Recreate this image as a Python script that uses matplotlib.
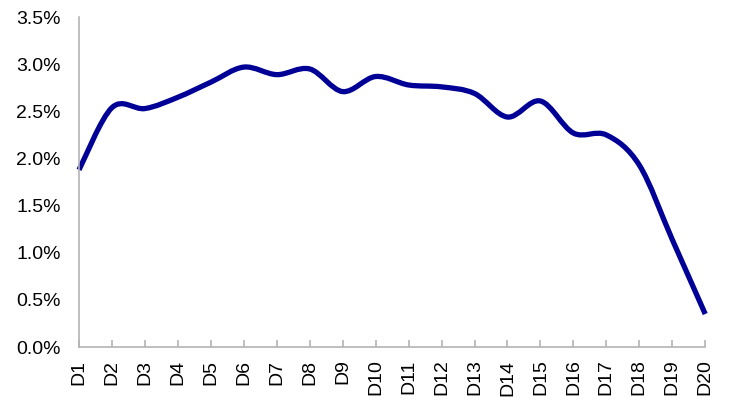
import numpy as np
import matplotlib.pyplot as plt
from matplotlib.path import Path
from matplotlib.patches import PathPatch
from matplotlib.ticker import FuncFormatter

plt.rcParams['font.family'] = ['Liberation Sans', 'DejaVu Sans']

labels = ['D%d' % i for i in range(1, 21)]
values = [1.88, 2.54, 2.53, 2.65, 2.81, 2.97, 2.89, 2.95, 2.71, 2.87,
          2.78, 2.76, 2.69, 2.44, 2.61, 2.27, 2.25, 1.93, 1.14, 0.35]

x = np.arange(len(values))
y = np.array(values) / 100.0

# smoothed line like a spreadsheet chart (Catmull-Rom bezier)
verts = [(x[0], y[0])]
codes = [Path.MOVETO]
n = len(x)
for i in range(n - 1):
    p0 = (x[max(i - 1, 0)], y[max(i - 1, 0)])
    p1 = (x[i], y[i])
    p2 = (x[i + 1], y[i + 1])
    p3 = (x[min(i + 2, n - 1)], y[min(i + 2, n - 1)])
    c1 = (p1[0] + (p2[0] - p0[0]) / 6.0, p1[1] + (p2[1] - p0[1]) / 6.0)
    c2 = (p2[0] - (p3[0] - p1[0]) / 6.0, p2[1] - (p3[1] - p1[1]) / 6.0)
    verts += [c1, c2, p2]
    codes += [Path.CURVE4] * 3

fig = plt.figure(figsize=(7.35, 4.08), dpi=100)
ax = fig.add_axes([0.1075, 0.1495, 0.852, 0.8085])

ax.add_patch(PathPatch(Path(verts, codes), facecolor='none',
                       edgecolor='#000096', lw=3.8, capstyle='butt',
                       joinstyle='round', clip_on=False))

ax.set_xlim(0, n - 1)
ax.set_ylim(0, 0.035)
ax.set_yticks(np.arange(0, 0.0351, 0.005))
ax.yaxis.set_major_formatter(FuncFormatter(lambda v, p: '%.1f%%' % (v * 100)))
ax.set_xticks(x)
ax.set_xticklabels(labels, rotation=90)

for s in ['top', 'right']:
    ax.spines[s].set_visible(False)
for s in ['left', 'bottom']:
    ax.spines[s].set_color('#b4b4b4')
    ax.spines[s].set_linewidth(1.2)
ax.tick_params(axis='x', direction='in', length=5, color='#b4b4b4',
               width=1.2, labelsize=14, pad=9)
ax.tick_params(axis='y', length=0, labelsize=14, pad=13)

fig.savefig('out.png')
